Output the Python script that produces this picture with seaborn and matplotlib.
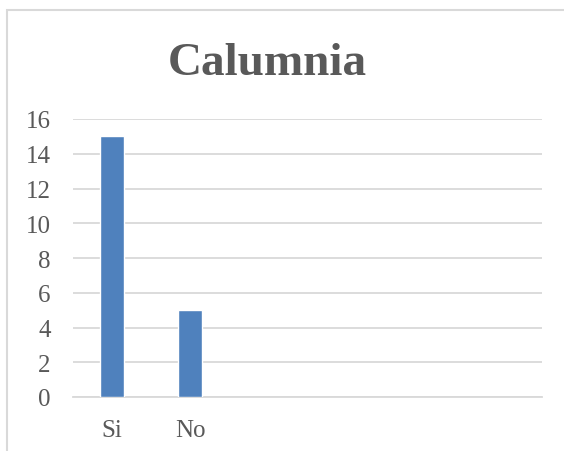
import matplotlib
matplotlib.use("Agg")
import matplotlib.pyplot as plt
import seaborn as sns
from matplotlib.patches import Rectangle

# Data
categories = ["Si", "No"]
values = [15, 5]
# chart reserves six category slots, only the first two are filled
all_slots = ["Si", "No", "s3", "s4", "s5", "s6"]
slot_labels = ["Si", "No", "", "", "", ""]
yticks = [0, 2, 4, 6, 8, 10, 12, 14, 16]

sns.set_style("white")
plt.rcParams['font.family'] = ['Liberation Serif', 'DejaVu Serif']

fig = plt.figure(figsize=(5.64, 4.52), dpi=100)
ax = fig.add_axes([73 / 564, 1 - 398 / 452, 469 / 564, 278 / 452])

# chart border (Excel style)
fig.patches.append(Rectangle((7 / 564, -0.1), 1.2, 1 - 11 / 452 + 0.1,
                             transform=fig.transFigure, fill=False,
                             edgecolor='#d9d9d9', linewidth=1.5, zorder=0))

sns.barplot(x=categories, y=values, order=all_slots, color='#4f81bd',
            saturation=1, width=0.31, ax=ax, zorder=3)

ax.set_ylim(0, 16)
ax.set_yticks(yticks)
ax.set_yticklabels([str(t) for t in yticks])
ax.set_xticks(range(len(all_slots)))
ax.set_xticklabels(slot_labels)
ax.set_xlim(-0.5, len(all_slots) - 0.5)

ax.grid(axis='y', color='#d9d9d9', linewidth=1.3, zorder=0)
ax.set_axisbelow(True)
for s in ['top', 'right', 'left']:
    ax.spines[s].set_visible(False)
ax.spines['bottom'].set_color('#d9d9d9')
ax.spines['bottom'].set_linewidth(1.3)
ax.tick_params(axis='both', length=0, labelsize=18, colors='#595959')
ax.tick_params(axis='y', pad=16)
ax.tick_params(axis='x', pad=16)
ax.set_xlabel('')
ax.set_ylabel('')

fig.text(267.5 / 564, 1 - 64 / 452, 'Calumnia', ha='center', va='center',
         fontsize=34, fontweight='bold', color='#595959')

fig.savefig('out.png', dpi=100)
